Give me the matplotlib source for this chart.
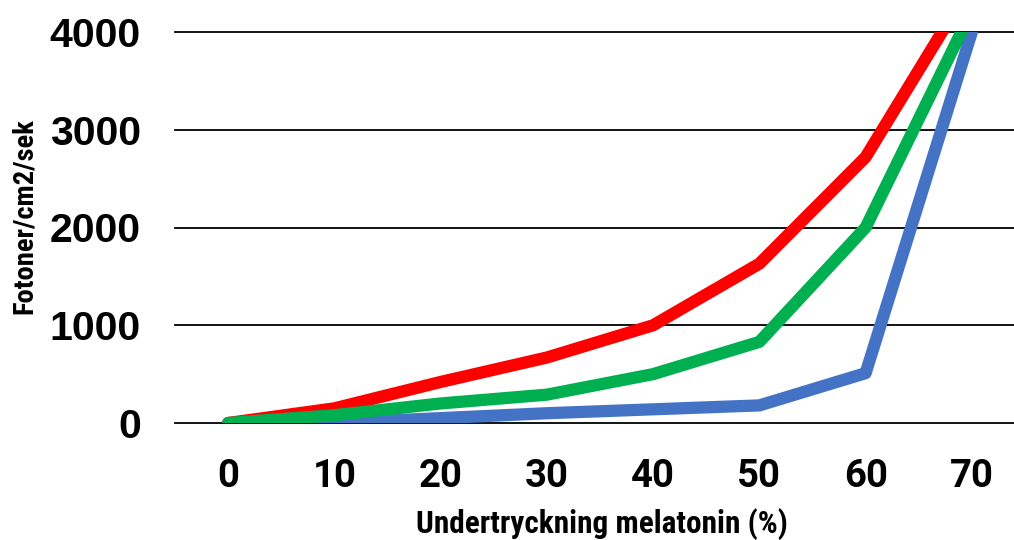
import matplotlib
matplotlib.use("Agg")
import matplotlib.pyplot as plt

categories = ["0", "10", "20", "30", "40", "50", "60", "70"]
red_values = [0, 150, 420, 670, 1000, 1630, 2720, 4500]
green_values = [0, 80, 200, 290, 500, 830, 2000, 4220]
blue_values = [0, 0, 50, 100, 140, 180, 510, 4000]
y_ticks = [0, 1000, 2000, 3000, 4000]
x_label = "Undertryckning melatonin (%)"
y_label = "Fotoner/cm2/sek"

narrow = ["Roboto Condensed", "DejaVu Sans"]
tickfont = ["Roboto", "DejaVu Sans"]
wide = ["Liberation Sans", "DejaVu Sans"]

fig = plt.figure(figsize=(10.14, 5.40), dpi=100)
ax = fig.add_axes([175 / 1014, 1 - 423 / 540, 850 / 1014, (423 - 32) / 540])

x = list(range(len(categories)))
lw = 8.8
ax.plot(x, blue_values, color="#4472C4", lw=lw, solid_capstyle="round", solid_joinstyle="round", zorder=3)
ax.plot(x, red_values, color="#FF0000", lw=lw, solid_capstyle="round", solid_joinstyle="round", zorder=4)
ax.plot(x, green_values, color="#00B050", lw=lw, solid_capstyle="round", solid_joinstyle="round", zorder=5)

ax.set_xlim(-0.5, len(categories) - 0.5)
ax.set_ylim(0, 4000)
ax.set_yticks(y_ticks)
ax.set_yticklabels([str(v) for v in y_ticks], family=wide, fontweight="bold", fontsize=29.5)
ax.set_xticks(x)
ax.set_xticklabels(categories, family=tickfont, fontweight="bold", fontsize=27.5)
ax.tick_params(axis="y", length=0, pad=24.5)
ax.tick_params(axis="x", length=0, pad=25.5)

for v in y_ticks:
    ax.axhline(v, color="black", lw=1.3, zorder=1, clip_on=False)

for s in ax.spines.values():
    s.set_visible(False)

fig.text(602 / 1014, 1 - 533 / 540, x_label, ha="center", va="baseline",
         family=narrow, fontweight="bold", fontsize=22.5)
fig.text(24 / 1014, 1 - 216 / 540, y_label, rotation=90, ha="center", va="center",
         family=narrow, fontweight="bold", fontsize=20.5)

fig.savefig("out.png", dpi=100)
